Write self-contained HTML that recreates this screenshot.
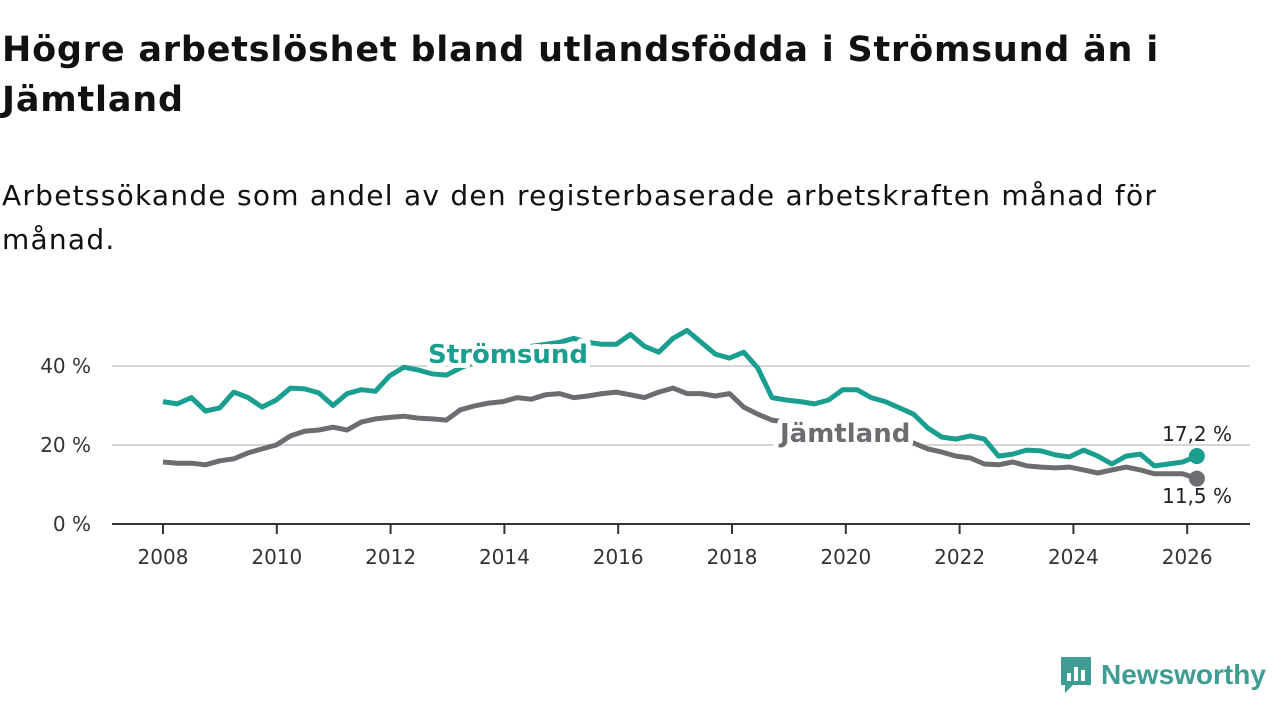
<!DOCTYPE html>
<html><head><meta charset="utf-8"><style>
body{margin:0;width:1280px;height:720px;background:#fff;font-family:"DejaVu Sans","Liberation Sans",sans-serif;overflow:hidden;position:relative;color:#111}
h1{position:absolute;left:2px;top:25px;margin:0;font-size:35px;line-height:50px;font-weight:bold;width:1200px;letter-spacing:0.8px}
.sub{position:absolute;left:2px;top:174px;margin:0;font-size:28px;line-height:44px;width:1200px;letter-spacing:1.25px}
svg{position:absolute;left:0;top:0}
.logo{position:absolute;left:1059px;top:655px;display:flex;align-items:center;gap:8px;color:#3e9c92;font-size:28px;font-weight:bold;font-family:"Liberation Sans",sans-serif}
</style></head><body>
<h1>Högre arbetslöshet bland utlandsfödda i Strömsund än i Jämtland</h1>
<p class="sub">Arbetssökande som andel av den registerbaserade arbetskraften månad för månad.</p>
<svg id="chart" width="1280" height="720"></svg>
<div class="logo">
<svg width="34" height="40" viewBox="0 0 34 40" style="position:static"><path d="M2 2h30v28H14l-8 8v-8H2z" fill="#3e9c92"/><rect x="8" y="18" width="4" height="8" fill="#fff"/><rect x="15" y="12" width="4" height="14" fill="#fff"/><rect x="22" y="15" width="4" height="11" fill="#fff"/></svg>
<span>Newsworthy</span></div>
<script>
const startYear = 2008;
const endYear = 2026.17;
const stromsund = [31,30.4,32,28.6,29.4,33.4,32,29.6,31.4,34.4,34.2,33.2,30,33,34,33.6,37.5,39.7,39,38,37.7,39.5,41,42,43,44,45,45.5,46,47,46,45.5,45.5,48,45,43.5,47,49,46,43,42,43.5,39.5,32,31.4,31,30.4,31.4,34,34,32,31,29.4,27.8,24.3,22,21.5,22.3,21.5,17.2,17.7,18.7,18.5,17.5,17,18.7,17.2,15.2,17.2,17.7,14.7,15.2,15.7,17.2];
const jamtland = [15.7,15.4,15.4,15,16,16.5,18,19,20,22.3,23.5,23.8,24.5,23.8,25.8,26.6,27,27.3,26.8,26.6,26.3,28.9,29.9,30.6,31,32,31.6,32.7,33,32,32.4,33,33.4,32.7,32,33.4,34.4,33,33,32.4,33,29.6,27.8,26.3,25.8,25,24.5,24,23.5,23,22.5,22,21.5,20.5,19,18.2,17.2,16.7,15.2,15,15.7,14.7,14.4,14.2,14.4,13.7,12.9,13.7,14.4,13.7,12.7,12.7,12.7,11.5];
const xTicks = [2008,2010,2012,2014,2016,2018,2020,2022,2024,2026];
const yTicks = [0,20,40];
const endLabels = ["17,2 %","11,5 %"];
const NS="http://www.w3.org/2000/svg";
const svg=document.getElementById('chart');
const X=y=>163+(y-2008)*56.9;
const Y=v=>524-v*3.95;
function mk(t,a){const e=document.createElementNS(NS,t);for(const k in a)e.setAttribute(k,a[k]);svg.appendChild(e);return e;}
yTicks.forEach(t=>{
  if(t>0){const g=mk('line',{x1:112,x2:1250,y1:Y(t),y2:Y(t),stroke:'#d6d6d6','stroke-width':2});
  
  }
  const l=mk('text',{x:91,y:Y(t)+7,'text-anchor':'end','font-size':20,fill:'#333'});l.textContent=t+' %';
  
  
});
const ax=mk('line',{x1:112,x2:1250,y1:524,y2:524,stroke:'#333','stroke-width':2});


xTicks.forEach(t=>{
  const tk=mk('line',{x1:X(t),x2:X(t),y1:524,y2:534,stroke:'#333','stroke-width':2});
  
  
  const l=mk('text',{x:X(t),y:564,'text-anchor':'middle','font-size':20,fill:'#333'});l.textContent=t;
  
  
});
function series(data,color,name){
  const step=(endYear-startYear)/(data.length-1);
  const d=data.map((v,i)=>(i?'L':'M')+X(startYear+i*step).toFixed(1)+' '+Y(v).toFixed(1)).join(' ');
  const p=mk('path',{d:d,fill:'none',stroke:color,'stroke-width':5,'stroke-linejoin':'round'});
  
  
  const c=mk('circle',{cx:X(endYear),cy:Y(data[data.length-1]),r:8,fill:color});
  
  
}
series(jamtland,'#6d6c70','jamtland');
series(stromsund,'#1a9e8f','stromsund');
function lab(x,y,txt,color,name){
  const h=mk('text',{x:x,y:y,'font-size':26,'font-weight':'bold',fill:'#fff',stroke:'#fff','stroke-width':10,'stroke-linejoin':'round'});h.textContent=txt;
  
  
  const t=mk('text',{x:x,y:y,'font-size':26,'font-weight':'bold',fill:color});t.textContent=txt;
  
  
}
lab(428,363,'Strömsund','#1a9e8f','stromsund');
lab(780,442,'Jämtland','#6d6c70','jamtland');
const e1=mk('text',{x:1232,y:441,'text-anchor':'end','font-size':20,fill:'#222'});e1.textContent=endLabels[0];


const e2=mk('text',{x:1232,y:503,'text-anchor':'end','font-size':20,fill:'#222'});e2.textContent=endLabels[1];


</script>
</body></html>
